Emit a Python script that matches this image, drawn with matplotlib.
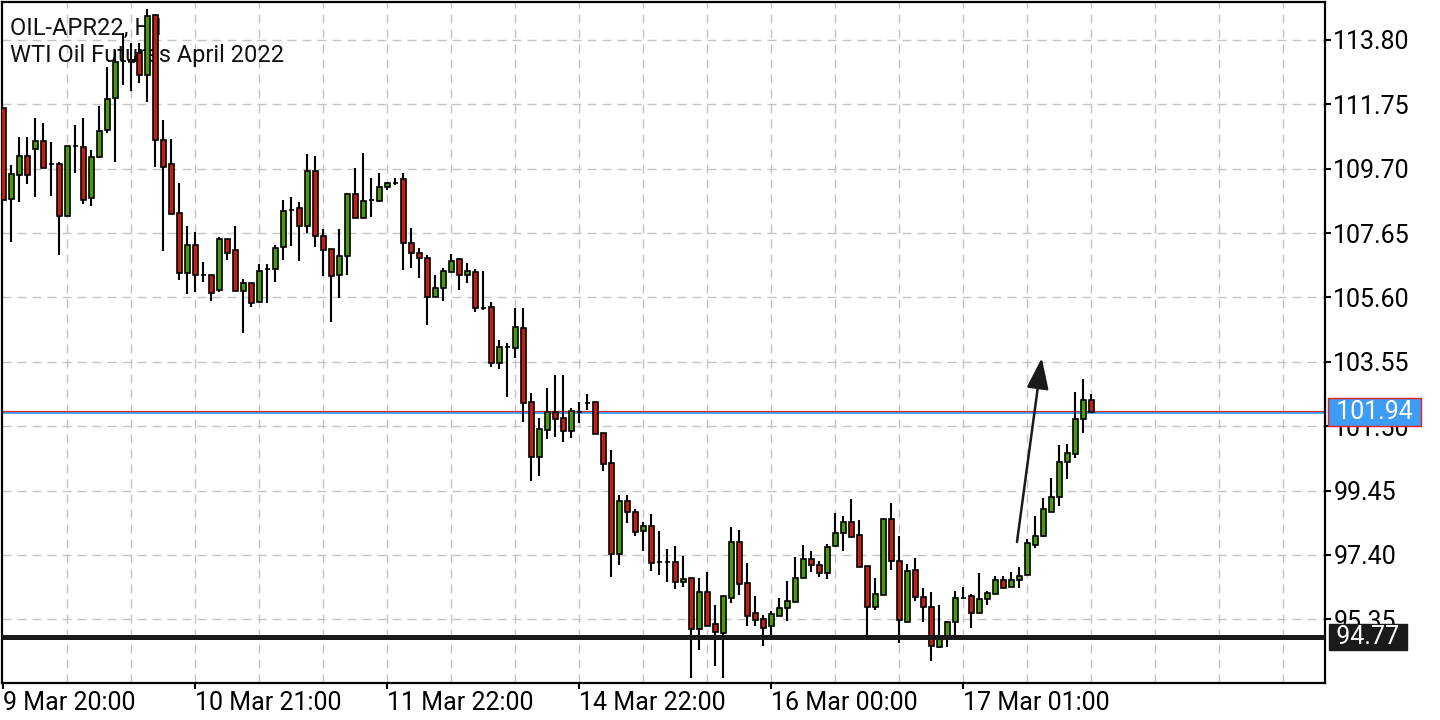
#!/usr/bin/env python3
"""WTI oil futures (OIL-APR22) hourly candles with support line and arrow."""

import matplotlib

matplotlib.use("Agg")
import matplotlib.pyplot as plt
from matplotlib import transforms


plt.rcParams["font.family"] = ["Roboto", "DejaVu Sans"]

# hourly candles
OPENS = [
    111.63, 108.74, 109.50, 110.11, 110.33, 110.58, 109.85, 109.85, 108.20, 110.42,
    110.39, 108.77, 110.07, 110.93, 111.95, 113.13, 113.10, 113.39, 112.69, 114.60,
    110.62, 109.85, 108.29, 106.38, 107.27, 106.32, 106.32, 105.84, 107.46, 107.11,
    105.81, 106.06, 105.46, 106.51, 106.51, 107.21, 108.39, 108.45, 107.88, 109.63,
    107.56, 107.14, 106.32, 106.92, 108.90, 108.13, 108.71, 108.67, 109.12, 109.25,
    109.37, 107.34, 107.02, 106.86, 105.62, 105.90, 106.41, 106.83, 106.32, 106.41,
    105.27, 105.30, 103.51, 104.02, 103.99, 104.63, 102.27, 100.52, 101.38, 101.95,
    101.76, 101.35, 101.95, 102.24, 102.27, 101.28, 100.33, 97.43, 99.12, 98.77,
    98.16, 98.32, 97.18, 97.18, 97.18, 96.54, 96.67, 95.04, 96.22, 95.20,
    94.91, 96.03, 97.81, 96.51, 95.55, 95.36, 95.14, 95.46, 95.71, 95.90,
    96.67, 97.27, 97.08, 96.82, 97.69, 98.10, 98.45, 98.04, 97.05, 95.74,
    96.12, 98.54, 97.21, 95.27, 96.92, 96.06, 95.74, 94.47, 94.82, 95.27,
    96.03, 96.09, 95.55, 96.00, 96.16, 96.60, 96.38, 96.60, 96.76, 97.72,
    98.00, 98.77, 99.24, 100.36, 100.62, 101.73, 102.34,
]
HIGHS = [
    111.63, 109.82, 110.71, 110.71, 111.32, 111.16, 110.55, 109.91, 110.42, 111.09,
    111.32, 110.30, 111.70, 112.94, 113.48, 114.02, 113.70, 113.70, 114.79, 114.60,
    111.25, 110.65, 109.25, 107.88, 107.69, 106.73, 106.32, 107.53, 107.46, 107.88,
    106.19, 106.06, 106.67, 106.67, 107.27, 108.71, 108.80, 108.64, 110.17, 110.11,
    107.78, 107.14, 107.78, 108.93, 109.72, 110.20, 109.41, 109.56, 109.28, 109.41,
    109.56, 107.81, 107.18, 106.95, 106.32, 106.54, 106.99, 106.86, 106.70, 106.51,
    106.44, 105.46, 104.25, 104.15, 105.27, 105.27, 102.56, 101.76, 102.72, 103.13,
    103.13, 102.08, 102.27, 102.53, 102.27, 101.28, 100.74, 99.31, 99.31, 98.86,
    98.45, 98.70, 98.16, 97.59, 97.69, 97.37, 96.67, 96.67, 96.86, 95.81,
    96.09, 98.29, 98.20, 97.14, 96.09, 95.49, 95.62, 96.03, 96.57, 97.34,
    97.72, 97.53, 97.21, 97.75, 98.74, 98.64, 99.18, 98.51, 97.05, 96.67,
    98.54, 99.05, 98.00, 97.11, 97.30, 96.35, 96.22, 95.81, 95.30, 96.25,
    96.38, 96.16, 96.82, 96.25, 96.73, 96.73, 96.86, 97.02, 97.91, 98.64,
    99.21, 99.85, 100.90, 100.93, 102.59, 103.00, 102.53,
]
LOWS = [
    108.71, 107.37, 108.64, 109.21, 108.80, 109.72, 108.83, 106.95, 108.20, 109.56,
    108.58, 108.51, 110.04, 110.84, 109.91, 112.37, 112.18, 112.43, 111.83, 109.76,
    107.08, 108.26, 106.16, 105.71, 105.78, 106.09, 105.49, 105.78, 106.79, 105.81,
    104.47, 105.30, 105.46, 105.42, 106.09, 106.79, 107.24, 106.76, 107.65, 107.21,
    106.28, 104.82, 105.58, 106.32, 108.13, 108.13, 108.16, 108.64, 109.02, 109.18,
    106.48, 106.54, 106.22, 104.72, 105.62, 105.49, 106.41, 105.84, 106.06, 105.14,
    105.20, 103.39, 103.32, 102.43, 103.67, 101.63, 99.76, 99.92, 101.09, 101.16,
    101.00, 101.13, 101.60, 102.02, 101.25, 100.07, 96.70, 97.08, 98.42, 98.00,
    97.53, 96.89, 96.76, 96.54, 96.31, 96.38, 93.48, 94.37, 95.14, 93.86,
    93.48, 95.87, 96.12, 95.14, 95.14, 94.50, 94.85, 95.46, 95.30, 95.90,
    96.67, 96.86, 96.70, 96.63, 97.69, 97.53, 97.97, 97.02, 94.79, 95.65,
    96.12, 96.92, 94.60, 95.27, 95.93, 95.27, 94.02, 94.44, 94.47, 94.79,
    96.00, 95.07, 95.55, 95.81, 96.16, 96.35, 96.38, 96.35, 96.76, 97.62,
    97.97, 98.77, 98.96, 99.82, 100.49, 101.28, 101.94,
]
CLOSES = [
    108.71, 109.53, 110.11, 109.50, 110.58, 109.72, 109.85, 108.20, 110.42, 110.42,
    108.71, 110.07, 110.90, 111.92, 113.10, 113.13, 113.16, 112.69, 114.56, 110.62,
    109.76, 108.26, 106.38, 107.27, 106.32, 106.32, 105.74, 107.46, 107.02, 105.81,
    106.06, 105.42, 106.44, 106.51, 107.18, 108.35, 108.39, 107.88, 109.63, 107.56,
    107.11, 106.28, 106.92, 108.90, 108.13, 108.67, 108.71, 109.12, 109.25, 109.25,
    107.34, 107.02, 106.86, 105.62, 105.90, 106.44, 106.76, 106.32, 106.44, 105.27,
    105.27, 103.51, 104.02, 104.02, 104.66, 102.24, 100.52, 101.41, 101.95, 101.73,
    101.35, 101.98, 101.95, 102.24, 101.25, 100.30, 97.43, 99.12, 98.77, 98.13,
    98.32, 97.14, 97.18, 97.18, 96.54, 96.63, 95.04, 96.22, 95.14, 94.95,
    96.09, 97.81, 96.48, 95.46, 95.33, 95.07, 95.52, 95.71, 95.93, 96.67,
    97.27, 97.08, 96.82, 97.65, 98.10, 98.45, 97.97, 97.02, 95.74, 96.16,
    98.54, 97.21, 95.33, 96.89, 96.06, 95.74, 94.50, 94.82, 95.27, 96.03,
    96.03, 95.55, 96.00, 96.19, 96.60, 96.35, 96.60, 96.73, 97.78, 98.00,
    98.86, 99.24, 100.36, 100.65, 101.73, 102.34, 101.94,
]

PRICE_TICKS = [95.35, 97.40, 99.45, 101.50, 103.55, 105.60, 107.65, 109.70, 111.75, 113.80]
TIME_TICKS = [0, 24, 48, 72, 96, 120]
TIME_LABELS = ["9 Mar 20:00", "10 Mar 21:00", "11 Mar 22:00", "14 Mar 22:00", "16 Mar 00:00", "17 Mar 01:00"]

LAST_PRICE = 101.94
SUPPORT = 94.77
ARROW_FROM = (126.7, 97.81)
ARROW_TO = (129.8, 103.67)

COLORS = {
    "up": "#4c9a06",
    "down": "#c4200e",
    "edge": "#000000",
    "grid": "#c4c4c4",
    "last": "#3d9cf5",
    "last_edge": "#e8201a",
    "support": "#1a1a1a",
}


def draw_candles(ax):
    n = len(OPENS)
    xs = list(range(n))
    ax.vlines(xs, LOWS, HIGHS, color=COLORS["edge"], linewidth=1.5, zorder=3)
    body_w = 0.6
    for i in xs:
        o, c = OPENS[i], CLOSES[i]
        if c > o:
            face = COLORS["up"]
        elif c < o:
            face = COLORS["down"]
        else:
            face = COLORS["edge"]
        ax.bar(i, abs(c - o), bottom=min(o, c), width=body_w, color=face,
               edgecolor=COLORS["edge"], linewidth=1.2, zorder=4)


def main():
    fig = plt.figure(figsize=(14.4, 7.2), dpi=100)
    ax = fig.add_axes([2 / 1440, 1 - 683 / 720, 1323 / 1440, 681 / 720])
    ax.set_xlim(-0.16, 165.2)
    ax.set_ylim(93.32, 115.01)

    # grid
    for x in range(8, 166, 8):
        ax.axvline(x, color=COLORS["grid"], linewidth=1.0, linestyle=(0, (6.5, 4.3)), zorder=1)
    for y in PRICE_TICKS:
        ax.axhline(y, color=COLORS["grid"], linewidth=1.0, linestyle=(0, (6.5, 4.3)), zorder=1)

    ax.text(0.006, 0.978, "OIL-APR22, H1\nWTI Oil Futures April 2022", transform=ax.transAxes,
            ha="left", va="top", fontsize=17, color="#111111", linespacing=1.25, zorder=2)

    ax.axhline(LAST_PRICE, color=COLORS["last"], linewidth=2.0, zorder=2)
    ax.axhline(LAST_PRICE + 0.04, color=COLORS["last_edge"], linewidth=0.8, zorder=2)
    ax.axhline(SUPPORT, color=COLORS["support"], linewidth=3.6, zorder=5)

    draw_candles(ax)

    ax.annotate("", xy=ARROW_TO, xytext=ARROW_FROM,
                arrowprops=dict(arrowstyle="-|>,head_length=0.95,head_width=0.34",
                                color="#1a1a1a", linewidth=1.8, mutation_scale=20,
                                shrinkA=0, shrinkB=0),
                zorder=6)

    # axes styling
    for side in ("left", "right", "top", "bottom"):
        ax.spines[side].set_linewidth(1.6)
        ax.spines[side].set_color("black")
    ax.yaxis.tick_right()
    ax.set_yticks(PRICE_TICKS, labels=[f"{v:.2f}" for v in PRICE_TICKS])
    ax.tick_params(axis="y", direction="out", length=4, width=1.5, pad=2, labelsize=18)
    ax.set_xticks(TIME_TICKS, labels=TIME_LABELS)
    ax.tick_params(axis="x", direction="out", length=4, width=1.5, pad=2, labelsize=18)
    for lbl in ax.get_xticklabels():
        lbl.set_horizontalalignment("left")

    # price tags on the right scale
    trans = transforms.blended_transform_factory(ax.transAxes, ax.transData)
    ax.text(1.004, LAST_PRICE, f" {LAST_PRICE:.2f} ", transform=trans, ha="left", va="center",
            fontsize=18, color="white", clip_on=False, zorder=10,
            bbox=dict(boxstyle="square,pad=0.08", facecolor=COLORS["last"],
                      edgecolor=COLORS["last_edge"], linewidth=1.0))
    ax.text(1.004, SUPPORT, f" {SUPPORT:.2f} ", transform=trans, ha="left", va="center",
            fontsize=18, color="white", clip_on=False, zorder=10,
            bbox=dict(boxstyle="square,pad=0.04", facecolor=COLORS["support"],
                      edgecolor=COLORS["support"], linewidth=1.0))

    fig.savefig("out.png", dpi=100, facecolor="white")
    plt.close(fig)


if __name__ == "__main__":
    main()
